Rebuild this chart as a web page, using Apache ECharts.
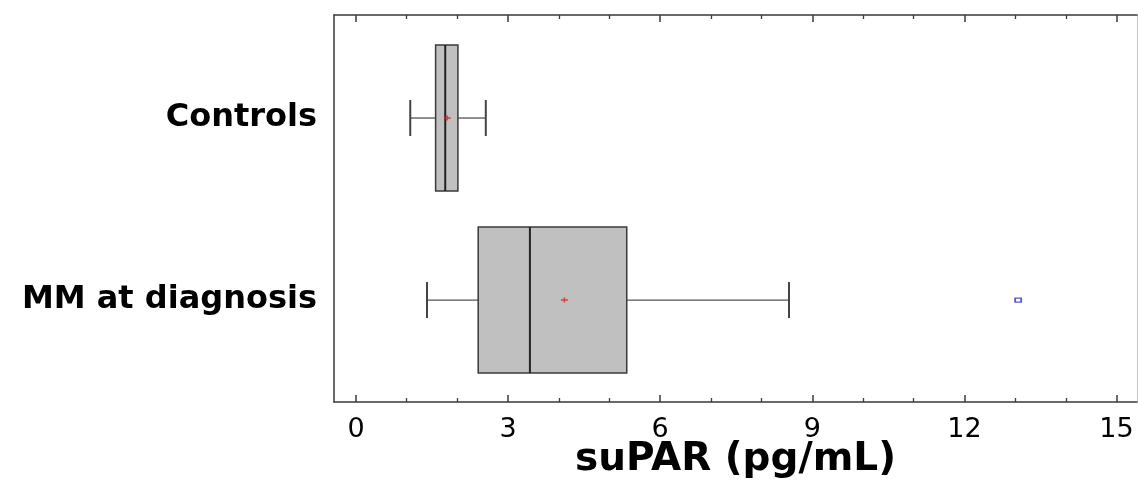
<!DOCTYPE html>
<html>
<head>
<meta charset="utf-8">
<title>suPAR boxplot</title>
<script src="https://cdn.jsdelivr.net/npm/echarts@6.0.0/dist/echarts.min.js"></script>
<style>
  html, body { margin: 0; padding: 0; background: #fff; }
  #chart { width: 1138px; height: 481px; }
</style>
</head>
<body>
<div id="chart"></div>
<script>
// groups, top to bottom
const categories = ['Controls', 'MM at diagnosis'];

// five-number summary per group: [min, Q1, median, Q3, max]
const boxValues = [
  [1.07, 1.57, 1.76, 2.01, 2.56],
  [1.40, 2.41, 3.43, 5.34, 8.54]
];
// group means (red marks)
const meanValues = [1.80, 4.11];
// outliers: [value, group index]
const outliers = [[13.06, 1]];

// axis ticks
const majorTicks = [0, 3, 6, 9, 12, 15];
const minorTicks = [1, 2, 4, 5, 7, 8, 10, 11, 13, 14];

const X_MIN = -0.434;
const X_MAX = 15.404;
const BOX_H = 146;   // box height in px
const CAP_H = 36;    // whisker cap height in px

const chart = echarts.init(document.getElementById('chart'));

// data for the custom series: [groupIndex, min, Q1, median, Q3, max]
const boxData = boxValues.map((v, i) => [i].concat(v));
const meanData = meanValues.map((v, i) => [v, i]);

const lineColor = '#3a3a3a';

function renderBox(params, api) {
  const cat = api.value(0);
  const lo = api.coord([api.value(1), cat]);
  const q1 = api.coord([api.value(2), cat]);
  const md = api.coord([api.value(3), cat]);
  const q3 = api.coord([api.value(4), cat]);
  const hi = api.coord([api.value(5), cat]);
  const y = q1[1];
  const whisk = { stroke: '#555', lineWidth: 1.3 };
  return {
    type: 'group',
    children: [
      { type: 'line', shape: { x1: lo[0], y1: y, x2: q1[0], y2: y }, style: whisk },
      { type: 'line', shape: { x1: q3[0], y1: y, x2: hi[0], y2: y }, style: whisk },
      { type: 'line', shape: { x1: lo[0], y1: y - CAP_H / 2, x2: lo[0], y2: y + CAP_H / 2 }, style: { stroke: '#444', lineWidth: 2 } },
      { type: 'line', shape: { x1: hi[0], y1: y - CAP_H / 2, x2: hi[0], y2: y + CAP_H / 2 }, style: { stroke: '#444', lineWidth: 2 } },
      {
        type: 'rect',
        shape: { x: q1[0], y: y - BOX_H / 2, width: q3[0] - q1[0], height: BOX_H },
        style: { fill: '#c0c0c0', stroke: lineColor, lineWidth: 1.5 }
      },
      { type: 'line', shape: { x1: md[0], y1: y - BOX_H / 2, x2: md[0], y2: y + BOX_H / 2 }, style: { stroke: '#222', lineWidth: 2 } }
    ]
  };
}

const tickFont = { fontFamily: 'DejaVu Sans', fontSize: 27, color: '#000' };

const option = {
  animation: false,
  // fixed plot box; labels may reach the canvas edge
  grid: { left: 334, right: 1, top: 15, bottom: 79, outerBoundsMode: 'none' },
  xAxis: [
    {
      // bottom axis, major ticks + labels
      type: 'value', position: 'bottom', min: X_MIN, max: X_MAX,
      name: 'suPAR (pg/mL)', nameLocation: 'middle', nameGap: 38, nameMoveOverlap: false,
      nameTextStyle: { fontFamily: 'DejaVu Sans', fontWeight: 'bold', fontSize: 39, color: '#000' },
      axisLine: { onZero: false, lineStyle: { color: lineColor, width: 1.5 } },
      axisTick: { inside: true, length: 7, customValues: majorTicks, lineStyle: { color: lineColor, width: 1.5 } },
      axisLabel: Object.assign({ customValues: majorTicks, margin: 14 }, tickFont),
      splitLine: { show: false }
    },
    {
      // bottom minor ticks
      type: 'value', position: 'bottom', min: X_MIN, max: X_MAX,
      axisLine: { show: false, onZero: false },
      axisTick: { inside: true, length: 4, customValues: minorTicks, lineStyle: { color: lineColor, width: 1.3 } },
      axisLabel: { show: false },
      splitLine: { show: false }
    },
    {
      // top frame, major ticks
      type: 'value', position: 'top', min: X_MIN, max: X_MAX,
      axisLine: { onZero: false, lineStyle: { color: lineColor, width: 1.5 } },
      axisTick: { inside: true, length: 7, customValues: majorTicks, lineStyle: { color: lineColor, width: 1.5 } },
      axisLabel: { show: false },
      splitLine: { show: false }
    },
    {
      // top minor ticks
      type: 'value', position: 'top', min: X_MIN, max: X_MAX,
      axisLine: { show: false, onZero: false },
      axisTick: { inside: true, length: 4, customValues: minorTicks, lineStyle: { color: lineColor, width: 1.3 } },
      axisLabel: { show: false },
      splitLine: { show: false }
    }
  ],
  yAxis: [
    {
      type: 'value', position: 'left', inverse: true, min: -0.566, max: 1.56,
      axisLine: { show: true, onZero: false, lineStyle: { color: lineColor, width: 1.5 } },
      axisTick: { show: false },
      axisLabel: {
        customValues: [0, 1],
        formatter: v => categories[v] || '',
        margin: 17,
        fontFamily: 'DejaVu Sans', fontWeight: 'bold', fontSize: 32, color: '#000'
      },
      splitLine: { show: false }
    },
    {
      // right frame line
      type: 'value', position: 'right', inverse: true, min: -0.566, max: 1.56,
      axisLine: { show: true, onZero: false, lineStyle: { color: '#c4c4c4', width: 1 } },
      axisTick: { show: false },
      axisLabel: { show: false },
      splitLine: { show: false }
    }
  ],
  series: [
    {
      type: 'custom',
      xAxisIndex: 0, yAxisIndex: 0,
      renderItem: renderBox,
      encode: { x: [1, 2, 3, 4, 5], y: 0 },
      data: boxData,
      z: 2
    },
    {
      // means
      type: 'scatter',
      xAxisIndex: 0, yAxisIndex: 0,
      symbol: 'path://M-3,-0.7H3V0.7H-3Z M-0.7,-2.5H0.7V2.5H-0.7Z',
      symbolSize: [7, 5],
      itemStyle: { color: '#e02828', opacity: 0.85 },
      data: meanData,
      z: 3
    },
    {
      // outliers
      type: 'scatter',
      xAxisIndex: 0, yAxisIndex: 0,
      symbol: 'rect',
      symbolSize: [6, 4],
      itemStyle: { color: '#fff', borderColor: '#3030c0', borderWidth: 1.5 },
      data: outliers,
      z: 3
    }
  ]
};

chart.setOption(option);
</script>
</body>
</html>
